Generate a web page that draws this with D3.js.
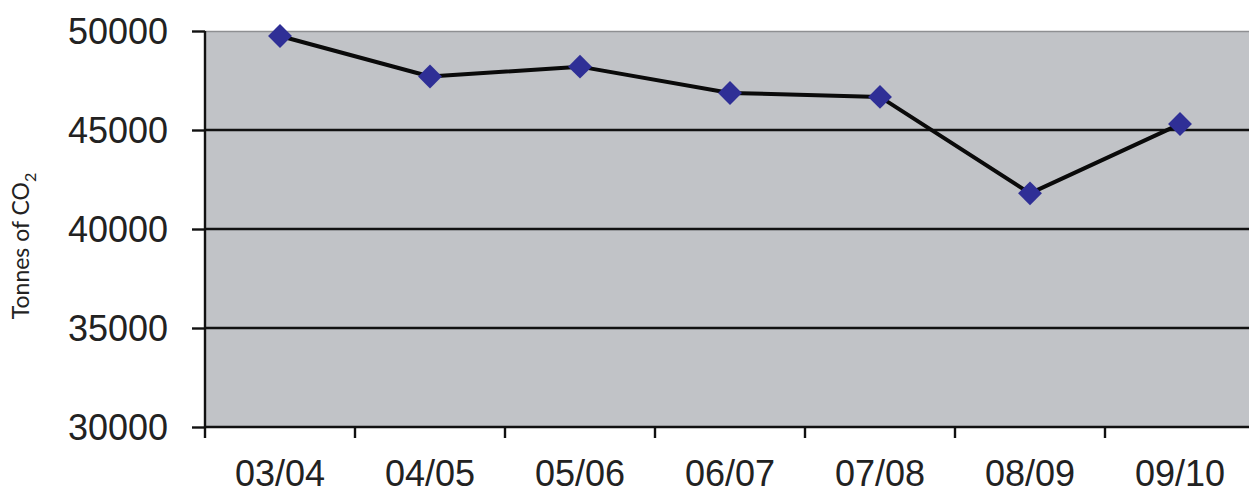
<!DOCTYPE html>
<html><head><meta charset="utf-8">
<script src="https://cdn.jsdelivr.net/npm/d3@7"></script>
<style>body{margin:0;background:#fff}svg{display:block}</style>
</head><body>
<svg id="c" width="1249" height="495"></svg>
<script>
const categories = ["03/04","04/05","05/06","06/07","07/08","08/09","09/10"];
const values = [49750, 47700, 48200, 46870, 46670, 41800, 45300];
const yTicks = [30000, 35000, 40000, 45000, 50000];

const svg = d3.select("#c");
const L = 205, R = 1255, T = 31, B = 427;
const x = d3.scaleBand().domain(categories).range([L, R]);
const y = d3.scaleLinear().domain([30000, 50000]).range([B, T]);

svg.append("rect").attr("x", L).attr("y", T).attr("width", 1249 - L).attr("height", B - T).attr("fill", "#c1c3c7");
svg.append("line").attr("x1", L).attr("x2", 1249).attr("y1", T + 0.5).attr("y2", T + 0.5).attr("stroke", "#8e8f92").attr("stroke-width", 1.5);

// gridlines
svg.append("g").selectAll("line").data(yTicks.filter(d => d > 30000 && d < 50000)).join("line")
  .attr("x1", L).attr("x2", 1249).attr("y1", d => y(d)).attr("y2", d => y(d))
  .attr("stroke", "#111").attr("stroke-width", 2.4);

// y axis
const ya = svg.append("g").attr("transform", `translate(${L},0)`)
  .call(d3.axisLeft(y).tickValues(yTicks).tickSize(13).tickPadding(24).tickFormat(d3.format("d")));
ya.select(".domain").remove();
ya.append("line").attr("x1", 0).attr("x2", 0).attr("y1", T).attr("y2", B + 11).attr("stroke", "#111").attr("stroke-width", 2.4);
ya.selectAll(".tick line").attr("stroke", "#111").attr("stroke-width", 2.4);
ya.selectAll("text").attr("font-family", "Liberation Sans, Arial, sans-serif").attr("font-size", 36).attr("fill", "#222").attr("dy", "0.36em");

// x axis
const xa = svg.append("g").attr("transform", `translate(0,${B})`)
  .call(d3.axisBottom(x).tickSize(0).tickPadding(32));
xa.select(".domain").remove();
xa.append("line").attr("x1", L).attr("x2", 1249).attr("y1", 0).attr("y2", 0).attr("stroke", "#111").attr("stroke-width", 2.4);
xa.selectAll(".tick").each(function(d){
  d3.select(this).append("line").attr("x1", x.bandwidth()/2).attr("x2", x.bandwidth()/2).attr("y1", 0).attr("y2", 11)
    .attr("stroke", "#111").attr("stroke-width", 2.4);
});
xa.selectAll("text").attr("font-family", "Liberation Sans, Arial, sans-serif").attr("font-size", 36).attr("fill", "#222").attr("dy", "0.75em");

// y title
const t = svg.append("text").attr("transform", "translate(29,246) rotate(-90)").attr("text-anchor", "middle")
  .attr("font-family", "Lato, Open Sans, sans-serif").attr("font-size", 23).attr("fill", "#222");
t.append("tspan").text("Tonnes of CO");
t.append("tspan").attr("dy", 7).attr("font-size", 16).text("2");

// line
const cx = d => x(d) + x.bandwidth() / 2;
svg.append("path").datum(values).attr("fill", "none").attr("stroke", "#0a0a0a").attr("stroke-width", 4)
  .attr("stroke-linejoin", "round")
  .attr("d", d3.line().x((d, i) => cx(categories[i])).y(d => y(d)));

// markers
svg.append("g").selectAll("path").data(values).join("path")
  .attr("transform", (d, i) => `translate(${cx(categories[i])},${y(d)}) rotate(45)`)
  .attr("d", d3.symbol().type(d3.symbolSquare).size(285))
  .attr("fill", "#2f2f96");
</script>
</body></html>
